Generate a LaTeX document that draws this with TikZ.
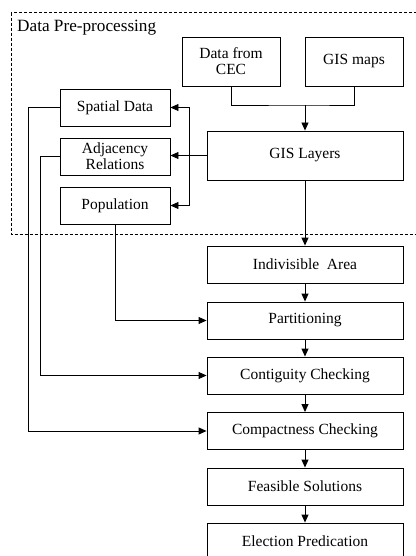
\documentclass[tikz,border=0pt]{standalone}
\usepackage{fontspec}
\setmainfont{Liberation Serif}
\usetikzlibrary{arrows.meta}
\begin{document}
\begin{tikzpicture}[x=1pt,y=-1pt,
  box/.style={draw, line width=0.9pt, rectangle, inner sep=0pt, align=center,
    font=\fontsize{15.5}{16}\selectfont},
  wide/.style={box, minimum width=196pt, minimum height=37pt},
  side/.style={box, minimum width=110pt, minimum height=37pt},
  top/.style={box, minimum width=98pt, minimum height=49pt},
  conn/.style={line width=0.9pt},
  arr/.style={conn, -{Triangle[length=8pt,width=7pt]}}]
\useasboundingbox (0,0) rectangle (415,556);
% dashed region
\draw[dashed, dash pattern=on 3pt off 2pt, line width=0.8pt] (11,12.7) rectangle (430,234);
\node[anchor=west, inner sep=0pt, font=\fontsize{17.2}{18}\selectfont] (title) at (17,28) {Data Pre-processing};
% boxes
\node[top] (cec) at (231,61.5) {Data from\\CEC};
\node[top] (gis) at (354,61.5) {GIS maps};
\node[box, minimum width=196pt, minimum height=49pt] (layers) at (305,155.5) {GIS Layers};
\node[side] (spatial) at (115,107.5) {Spatial Data};
\node[side] (adj) at (115,156.5) {Adjacency\\Relations};
\node[side] (pop) at (115,205.5) {Population};
\node[wide] (ind) at (305,264.5) {Indivisible\ \ Area};
\node[wide] (part) at (305,320.5) {Partitioning};
\node[wide] (cont) at (305,375.5) {Contiguity Checking};
\node[wide] (comp) at (305,431) {Compactness Checking};
\node[wide] (feas) at (305,486.5) {Feasible Solutions};
\node[wide] (elec) at (305,541.5) {Election Predication};
% coordinates
\coordinate (merge) at (305,105);
\coordinate (bus) at (189,155.5);
% connectors
\draw[conn] (cec.south) |- (merge) -| (gis.south);
\draw[arr] (merge) -- (layers.north);
\draw[conn] (layers.west) -- (bus);
\draw[arr] (bus) |- (spatial.east);
\draw[arr] (bus) -- (bus -| adj.east);
\draw[arr] (bus) |- (pop.east);
\draw[arr] (layers.south) -- (ind.north);
\draw[arr] (ind) -- (part);
\draw[arr] (part) -- (cont);
\draw[arr] (cont) -- (comp);
\draw[arr] (comp) -- (feas);
\draw[arr] (feas) -- (elec);
\draw[arr] (pop.south) |- (part.west);
\draw[arr] (adj.west) -- ++(-19,0) |- (cont.west);
\draw[arr] (spatial.west) -- ++(-31,0) |- (comp.west);
\end{tikzpicture}
\end{document}
